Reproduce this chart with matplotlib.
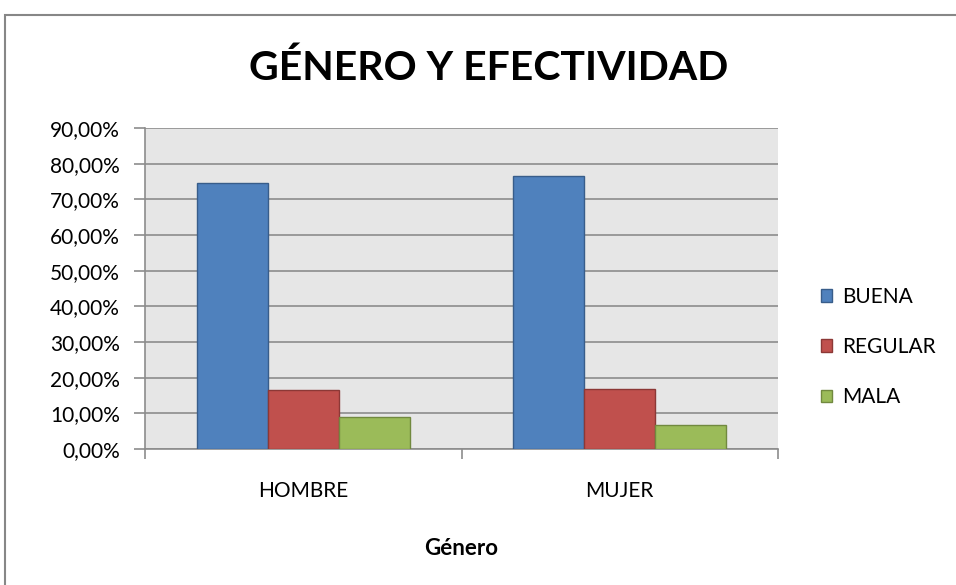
import matplotlib
matplotlib.use("Agg")
import matplotlib.pyplot as plt
import numpy as np
from matplotlib.patches import Rectangle
from matplotlib.ticker import FuncFormatter

categories = ["HOMBRE", "MUJER"]
series_names = ["BUENA", "REGULAR", "MALA"]
buena = [74.6, 76.6]
regular = [16.5, 16.8]
mala = [8.9, 6.7]
y_ticks = [0, 10, 20, 30, 40, 50, 60, 70, 80, 90]

colors = ["#4f81bd", "#c0504d", "#9bbb59"]
edges = ["#385d8a", "#8c3836", "#71893f"]

plt.rcParams["font.family"] = ["Lato", "DejaVu Sans"]

fig = plt.figure(figsize=(9.56, 5.85), dpi=100)
fig.patch.set_facecolor("white")

# outer chart border
fig.add_artist(Rectangle((5 / 956, -0.1), 1.2, 1 - 15 / 585 + 0.1,
                         transform=fig.transFigure, fill=False,
                         edgecolor="#878787", linewidth=1.5))

ax = fig.add_axes([145 / 956, 1 - 449 / 585, (778 - 145) / 956, (449 - 128) / 585])
ax.set_facecolor("#e6e6e6")

x = np.arange(len(categories))
bw = 0.224
for i, vals in enumerate([buena, regular, mala]):
    ax.bar(x + (i - 1) * bw, vals, width=bw, color=colors[i],
           edgecolor=edges[i], linewidth=1, label=series_names[i], zorder=3)

ax.set_xlim(-0.5, 1.5)
ax.set_ylim(0, 90)
ax.set_yticks(y_ticks)
ax.yaxis.set_major_formatter(FuncFormatter(lambda v, p: f"{v:.2f}%".replace(".", ",")))
ax.grid(axis="y", color="#8c8c8c", linewidth=1.2, zorder=1)
ax.set_axisbelow(True)

ax.set_xticks(x)
ax.set_xticklabels(categories)
ax.set_xticks([-0.5, 0.5, 1.5], minor=True)
ax.tick_params(axis="x", which="major", length=0, pad=23, labelsize=15, colors="black")
ax.tick_params(axis="x", which="minor", length=7, color="#8c8c8c", width=1.2)
ax.tick_params(axis="y", length=8, color="#8c8c8c", width=1.2, labelsize=15, pad=10)

for s in ["top", "right"]:
    ax.spines[s].set_visible(False)
for s in ["left", "bottom"]:
    ax.spines[s].set_color("#8c8c8c")
    ax.spines[s].set_linewidth(1.2)

ax.set_xlabel("Género", fontsize=16, fontweight="bold", labelpad=27)

fig.text(489 / 956, 1 - 68 / 585, "GÉNERO Y EFECTIVIDAD", ha="center", va="center",
         fontsize=29.5, fontweight="bold")

ax.legend(loc="center left", bbox_to_anchor=(802 / 956, 1 - 347 / 585),
          bbox_transform=fig.transFigure, frameon=False, fontsize=15,
          handlelength=0.55, handleheight=0.55, handletextpad=0.5, labelspacing=1.45)

fig.savefig("out.png", dpi=100)
